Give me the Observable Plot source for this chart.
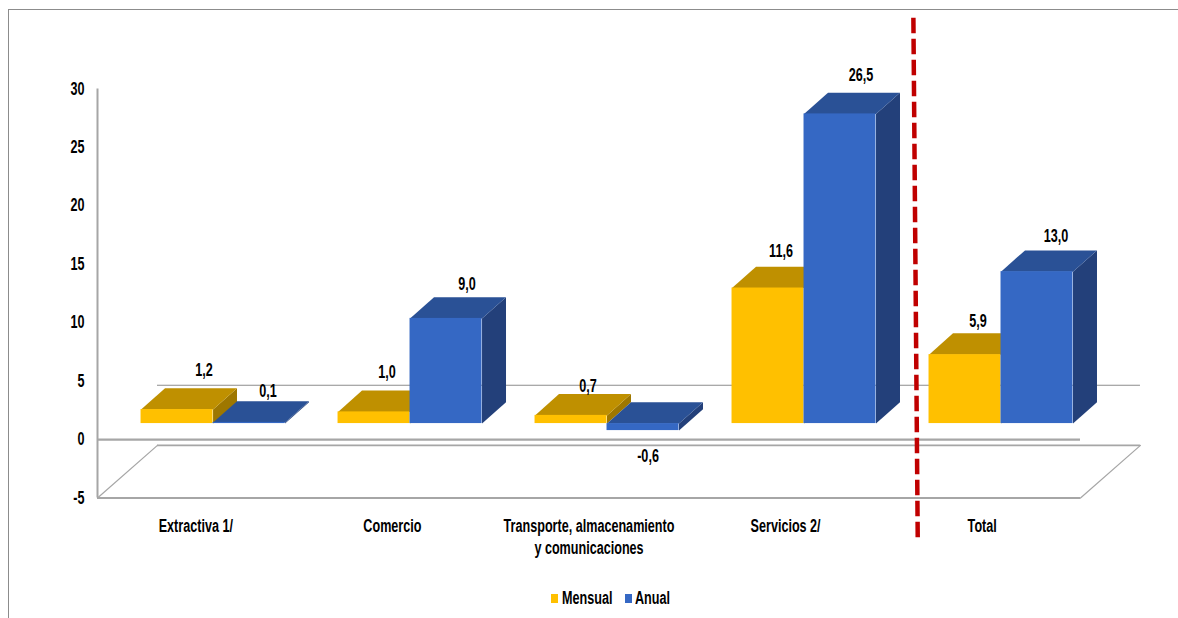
<!DOCTYPE html>
<html lang="es">
<head>
<meta charset="utf-8">
<script src="https://cdn.jsdelivr.net/npm/d3@7"></script>
<script src="https://cdn.jsdelivr.net/npm/@observablehq/plot@0.6"></script>
<style>
  html, body { margin: 0; padding: 0; background: #fff; overflow: hidden; }
  #page { position: relative; width: 1178px; height: 618px; font-family: "Liberation Sans", sans-serif; font-weight: bold; color: #000; }
  #frame { position: absolute; left: 8px; top: 9px; right: 0; bottom: 0; border-top: 1.5px solid #8c8c8c; border-left: 1.5px solid #8c8c8c; pointer-events: none; }
  #chart { position: relative; }
  #chart svg { display: block; overflow: visible; }
  #legend { position: absolute; left: 0; top: 587px; width: 1178px; height: 22px; font-size: 17.5px; line-height: 22px; }
  #legend i { position: absolute; top: 7px; width: 7px; height: 9px; }
  #legend b { position: absolute; top: 0; transform: scaleX(0.72); transform-origin: left center; white-space: nowrap; }
</style>
</head>
<body>
<div id="page">
  <div id="frame"></div>
  <div id="chart"></div>
  <div id="legend"></div>
</div>
<script>
// Data
const categories = ["Extractiva 1/", "Comercio", "Transporte, almacenamiento\ny comunicaciones", "Servicios 2/", "Total"];
const mensual = [1.2, 1.0, 0.7, 11.6, 5.9];
const anual = [0.1, 9.0, -0.6, 26.5, 13.0];
const yTicks = [-5, 0, 5, 10, 15, 20, 25, 30];
const seriesNames = ["Mensual", "Anual"];

// Colours: front, top and side faces of each series
const faceColors = {
  Mensual: {front: "#FFC000", top: "#BF9000", side: "#9E7700"},
  Anual: {front: "#3568C4", top: "#2A5196", side: "#23407A"}
};

// Layout expressed in scale units (1 x unit = one category, y units = chart values)
const W = 1178, H = 580;
const xLeft = 97, xRight = 1080, yBottom = 497.5, yTop = 88.5;
const barStart = 0.2215, barWidth = 0.3662, barStep = 1.002;
const depthX = 0.122, depthY = 1.82;       // depth of each bar
const floorX = 0.305, floorY = 4.5;        // depth of the chart's floor
const backLine = 4.65;                      // the rear line of the zero plane
const barLift = -16;                        // bars sit on a plane behind the axis plane
const gridColor = "#a6a6a6";
const narrow = 0.72;                        // stands in for the source's condensed face

// Per-label pixel nudges (labels were placed by hand in the source)
const nudges = {
  Mensual: [[27, -39], [13, -39], [17, -29], [13, -37], [13, -33]],
  Anual: [[19, -31], [21, -34], [5, 26], [21, -39], [19, -35]]
};

const rows = [];
categories.forEach((c, i) => {
  [mensual[i], anual[i]].forEach((v, s) => {
    const x1 = i * barStep + barStart + s * barWidth;
    rows.push({category: c, series: seriesNames[s], value: v, x1, x2: x1 + barWidth, nudge: nudges[seriesNames[s]][i]});
  });
});

// Top and side faces, drawn series by series in painter's order
const faces = [];
rows.forEach((r, k) => {
  const hi = Math.max(r.value, 0), lo = Math.min(r.value, 0);
  const c = faceColors[r.series];
  const add = (name, fill, pts) => pts.forEach(([x, y]) => faces.push({id: k + name, fill, x, y}));
  add("side", c.side, [[r.x2, hi], [r.x2 + depthX, hi + depthY], [r.x2 + depthX, lo + depthY], [r.x2, lo]]);
  add("top", c.top, [[r.x1, hi], [r.x1 + depthX, hi + depthY], [r.x2 + depthX, hi + depthY], [r.x2, hi]]);
});

const n = categories.length;
const floorBack = -5 + floorY;
const planeLines = [
  {x1: 0, x2: n, y: 0, w: 2.2},
  {x1: 0, x2: n, y: -5, w: 1.8},
  {x1: floorX, x2: n + floorX, y: floorBack, w: 1.8},
  {x1: floorX, x2: n + floorX, y: backLine, w: 1.2}
];
const floorSides = [
  [{x: 0, y: -5}, {x: floorX, y: floorBack}],
  [{x: n, y: -5}, {x: n + floorX, y: floorBack}]
];
const separator = [{x: 4.15, y: 36.1}, {x: 4.172, y: -8.35}];

const fmt = v => v.toFixed(1).replace(".", ",");

const chart = Plot.plot({
  width: W,
  height: H,
  marginLeft: xLeft,
  marginRight: W - xRight,
  marginTop: yTop,
  marginBottom: H - yBottom,
  style: {fontFamily: '"Liberation Sans", sans-serif', fontWeight: "bold", fontSize: "17.5px", color: "#000", background: "transparent", overflow: "visible"},
  x: {type: "linear", domain: [0, n], axis: null},
  y: {domain: [-5, 30], axis: null},
  marks: [
    Plot.ruleX([0], {y1: -5, y2: 30, stroke: gridColor, strokeWidth: 2}),
    Plot.ruleY(planeLines, {y: "y", x1: "x1", x2: "x2", stroke: d => d.w < 1.5 ? "#8c8c8c" : gridColor, strokeWidth: "w"}),
    ...floorSides.map(s => Plot.line(s, {x: "x", y: "y", stroke: gridColor, strokeWidth: 1.2})),
    Plot.axisY({ticks: yTicks, tickSize: 0, tickPadding: 13, tickFormat: d => String(d), label: null, anchor: "left", fill: "#000", marginLeft: xLeft}),
    Plot.axisX({ticks: categories.map((_, i) => i + 0.5), tickSize: 0, tickPadding: 18, tickFormat: d => categories[Math.floor(d)], label: null, anchor: "bottom", lineHeight: 1.26, fill: "#000"}),
    Plot.line(faces, {x: "x", y: "y", z: "id", fill: "fill", stroke: "none", dy: barLift}),
    Plot.rect(rows, {
      x1: "x1", x2: "x2",
      y1: d => Math.min(d.value, 0), y2: d => Math.max(d.value, 0),
      fill: d => faceColors[d.series].front,
      dy: barLift
    }),
    ...rows.map(r => Plot.text([r], {
      x: d => (d.x1 + d.x2) / 2,
      y: "value",
      text: d => fmt(d.value),
      dx: r.nudge[0],
      dy: r.nudge[1] + barLift,
      fill: "#000"
    })),
    Plot.line(separator, {x: "x", y: "y", stroke: "#C00000", strokeWidth: 4.5, strokeDasharray: "15.5,5.5", strokeLinecap: "butt"})
  ]
});
document.getElementById("chart").appendChild(chart);

// Condense the text to the source's narrow proportions
chart.querySelectorAll("text").forEach(t => {
  const parts = t.querySelectorAll("tspan");
  (parts.length ? [...parts] : [t]).forEach(el => {
    el.setAttribute("textLength", el.getComputedTextLength() * narrow);
    el.setAttribute("lengthAdjust", "spacingAndGlyphs");
  });
});

// Legend
const legend = document.getElementById("legend");
const legendSpots = {Mensual: [551, 562], Anual: [625, 635]};
seriesNames.forEach(name => {
  const swatch = document.createElement("i");
  swatch.style.background = faceColors[name].front;
  swatch.style.left = legendSpots[name][0] + "px";
  const label = document.createElement("b");
  label.textContent = name;
  label.style.left = legendSpots[name][1] + "px";
  legend.appendChild(swatch);
  legend.appendChild(label);
});
</script>
</body>
</html>
